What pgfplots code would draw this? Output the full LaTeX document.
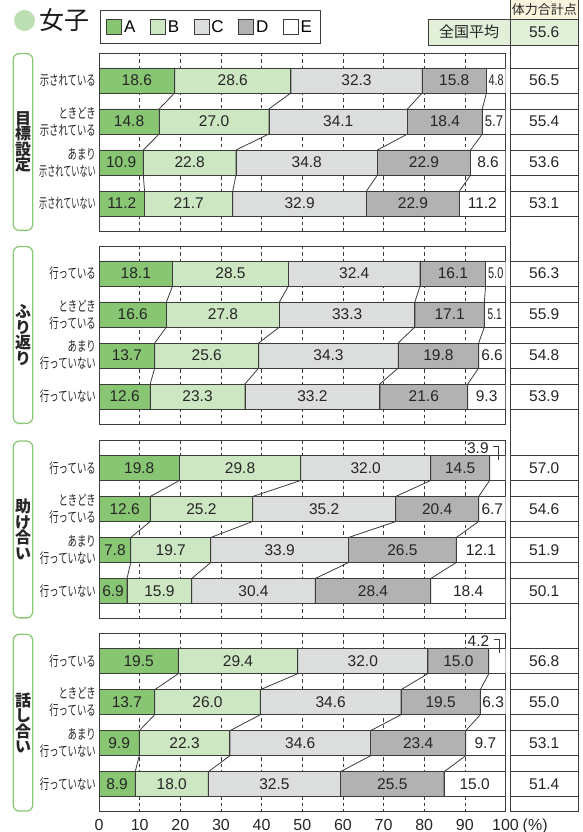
\documentclass[border=0pt]{standalone}
\usepackage{fontspec}
\setmainfont{Liberation Sans}
\newfontfamily\jp{Noto Sans CJK JP}
\newfontfamily\jpn{Noto Sans CJK JP}[FakeStretch=0.67]
\newfontfamily\jpnn{Noto Sans CJK JP}[FakeStretch=0.58]
\usepackage{graphicx}
\usepackage{pgfplots}
\usepackage{pgfplotstable}
\pgfplotsset{compat=1.18}

\definecolor{cA}{RGB}{137,198,116}
\definecolor{cB}{RGB}{205,231,195}
\definecolor{cC}{RGB}{220,221,221}
\definecolor{cD}{RGB}{178,178,178}
\definecolor{bd}{RGB}{60,60,60}
\definecolor{gbox}{RGB}{140,200,120}
\definecolor{gcirc}{RGB}{188,222,178}
\definecolor{hdr}{RGB}{249,244,222}
\definecolor{avg}{RGB}{226,240,218}

% row yy A B C D E S(score) Es(label xscale) Ex Ey (label offsets)
\pgfplotstableread{
row yy A B C D E S Es Ex Ey
0 -0.305 18.6 28.6 32.3 15.8 4.8 56.5 0.7 0 0
0 0.305 18.6 28.6 32.3 15.8 4.8 56.5 0.7 0 0
1 0.695 14.8 27.0 34.1 18.4 5.7 55.4 0.85 0 0
1 1.305 14.8 27.0 34.1 18.4 5.7 55.4 0.85 0 0
2 1.695 10.9 22.8 34.8 22.9 8.6 53.6 1 0 0
2 2.305 10.9 22.8 34.8 22.9 8.6 53.6 1 0 0
3 2.695 11.2 21.7 32.9 22.9 11.2 53.1 1 0 0
3 3.305 11.2 21.7 32.9 22.9 11.2 53.1 1 0 0
}\tA
\pgfplotstableread{
row yy A B C D E S Es Ex Ey
0 -0.305 18.1 28.5 32.4 16.1 5.0 56.3 0.7 0 0
0 0.305 18.1 28.5 32.4 16.1 5.0 56.3 0.7 0 0
1 0.695 16.6 27.8 33.3 17.1 5.1 55.9 0.65 0 0
1 1.305 16.6 27.8 33.3 17.1 5.1 55.9 0.65 0 0
2 1.695 13.7 25.6 34.3 19.8 6.6 54.8 1 0 0
2 2.305 13.7 25.6 34.3 19.8 6.6 54.8 1 0 0
3 2.695 12.6 23.3 33.2 21.6 9.3 53.9 1 0 0
3 3.305 12.6 23.3 33.2 21.6 9.3 53.9 1 0 0
}\tB
\pgfplotstableread{
row yy A B C D E S Es Ex Ey
0 -0.305 19.8 29.8 32.0 14.5 3.9 57.0 1 -4.85 -0.48
0 0.305 19.8 29.8 32.0 14.5 3.9 57.0 1 -4.85 -0.48
1 0.695 12.6 25.2 35.2 20.4 6.7 54.6 1 0 0
1 1.305 12.6 25.2 35.2 20.4 6.7 54.6 1 0 0
2 1.695 7.8 19.7 33.9 26.5 12.1 51.9 1 0 0
2 2.305 7.8 19.7 33.9 26.5 12.1 51.9 1 0 0
3 2.695 6.9 15.9 30.4 28.4 18.4 50.1 1 0 0
3 3.305 6.9 15.9 30.4 28.4 18.4 50.1 1 0 0
}\tC
\pgfplotstableread{
row yy A B C D E S Es Ex Ey
0 -0.305 19.5 29.4 32.0 15.0 4.2 56.8 1 -4.65 -0.48
0 0.305 19.5 29.4 32.0 15.0 4.2 56.8 1 -4.65 -0.48
1 0.695 13.7 26.0 34.6 19.5 6.3 55.0 1 0 0
1 1.305 13.7 26.0 34.6 19.5 6.3 55.0 1 0 0
2 1.695 9.9 22.3 34.6 23.4 9.7 53.1 1 0 0
2 2.305 9.9 22.3 34.6 23.4 9.7 53.1 1 0 0
3 2.695 8.9 18.0 32.5 25.5 15.0 51.4 1 0 0
3 3.305 8.9 18.0 32.5 25.5 15.0 51.4 1 0 0
}\tD

\pgfplotsset{
  barax/.style={width=406.5pt,height=178pt,scale only axis,
    xmin=0,xmax=100,ymin=-0.67,ymax=3.67,y dir=reverse,
    xbar stacked, bar width=25pt,
    xtick={0,10,...,100}, ytick=\empty, xticklabels={},
    major tick length=0pt, tick style={draw=none},
    xmajorgrids, major grid style={bd, dash pattern=on 3.5pt off 3pt, line width=0.6pt},
    axis line style={bd, line width=0.9pt},
    every axis plot/.append style={draw=bd, line width=0.8pt}},
  labax/.style={width=406.5pt,height=178pt,scale only axis,
    xmin=0,xmax=100,ymin=-0.67,ymax=3.67,y dir=reverse, hide axis, clip=false},
  lab/.style={only marks, mark=*, mark size=0pt, mark options={draw=none,fill=none},
    each nth point=2, filter discard warning=false,
    nodes near coords, point meta=explicit symbolic,
    nodes near coords style={anchor=center, inner sep=0pt,
      font=\fontsize{15.5}{15.5}\selectfont, text=black!85}},
  conn/.style={draw=bd, line width=0.8pt, mark=none},
  seg/.style={each nth point=2, filter discard warning=false,
    legend image code/.code={\draw[##1,line width=0.8pt] (0pt,-7.5pt) rectangle (15pt,7.5pt);}},
}
\tikzset{
  rowlab/.style={anchor=east, xshift=-3pt, align=right, inner sep=0pt,
    font=\jpn\fontsize{14}{17}\selectfont, text=black!85},
  grp/.style={align=center, inner sep=0pt, font=\jp\bfseries\fontsize{16}{15.5}\selectfont, text=black!85},
  colline/.style={draw=bd, line width=0.8pt},
}

\newcommand\panel[5]{%
\begin{axis}[barax, at={(99pt,#2pt)}, anchor=south west, #4]
\addplot[seg, fill=cA] table[x=A,y=row]{#1};
\addplot[seg, fill=cB] table[x=B,y=row]{#1};
\addplot[seg, fill=cC] table[x=C,y=row]{#1};
\addplot[seg, fill=cD] table[x=D,y=row]{#1};
\addplot[seg, fill=white] table[x=E,y=row]{#1};
\end{axis}
\begin{axis}[labax, at={(99pt,#2pt)}, anchor=south west]
\addplot[conn] table[x expr=\thisrow{A}, y=yy]{#1};
\addplot[conn] table[x expr=\thisrow{A}+\thisrow{B}, y=yy]{#1};
\addplot[conn] table[x expr=\thisrow{A}+\thisrow{B}+\thisrow{C}, y=yy]{#1};
\addplot[conn] table[x expr=\thisrow{A}+\thisrow{B}+\thisrow{C}+\thisrow{D}, y=yy]{#1};
\addplot[lab] table[x expr=\thisrow{A}/2, y=row, meta=A]{#1};
\addplot[lab] table[x expr=\thisrow{A}+\thisrow{B}/2, y=row, meta=B]{#1};
\addplot[lab] table[x expr=\thisrow{A}+\thisrow{B}+\thisrow{C}/2, y=row, meta=C]{#1};
\addplot[lab] table[x expr=\thisrow{A}+\thisrow{B}+\thisrow{C}+\thisrow{D}/2, y=row, meta=D]{#1};
\addplot[lab, visualization depends on={\thisrow{Es}\as\es},
  nodes near coords={\scalebox{\es}[1]{\pgfplotspointmeta}}]
  table[x expr=\thisrow{A}+\thisrow{B}+\thisrow{C}+\thisrow{D}+\thisrow{E}/2+\thisrow{Ex},
        y expr=\thisrow{row}+\thisrow{Ey}, meta=E]{#1};
\addplot[lab] table[x expr=109.53, y=row, meta=S]{#1};
\pgfplotsinvokeforeach{-0.305,0.305,0.695,1.305,1.695,2.305,2.695,3.305}{%
  \draw[colline] (axis cs:101.1,##1) -- (axis cs:117.96,##1);}
#5
\end{axis}
\draw[gbox, line width=1.3pt, rounded corners=6pt] (13.3pt,#2pt+0.6pt) rectangle (32.7pt,#2pt+177.4pt);
\node[grp] at (23pt,#2pt+89pt) {#3};
}

\newcommand\shimesare{%
\node[rowlab] at (axis cs:0,0) {示されている};
\node[rowlab] at (axis cs:0,1) {ときどき\\示されている};
\node[rowlab] at (axis cs:0,2) {あまり\\{\jpnn 示されていない}};
\node[rowlab, font=\jpnn\fontsize{14}{17}\selectfont] at (axis cs:0,3) {示されていない};}
\newcommand\itte{%
\node[rowlab] at (axis cs:0,0) {行っている};
\node[rowlab] at (axis cs:0,1) {ときどき\\行っている};
\node[rowlab] at (axis cs:0,2) {あまり\\行っていない};
\node[rowlab] at (axis cs:0,3) {行っていない};}

\begin{document}
\begin{tikzpicture}
\path[use as bounding box] (0pt,0pt) rectangle (582pt,832pt);

% title
\fill[gcirc] (24.5pt,811.5pt) circle (10.5pt);
\node[anchor=west, inner sep=0pt, font=\jp\fontsize{25}{25}\selectfont, text=black!90] at (39pt,811.5pt) {女子};

% header of score column
\fill[hdr] (510pt,832pt) rectangle (578.5pt,812.5pt);
\node[font=\jp\fontsize{13}{13}\selectfont, text=black!85] at (544.25pt,822.3pt) {体力合計点};
\filldraw[fill=avg, draw=bd, line width=0.8pt] (428pt,812.5pt) rectangle (578.5pt,787pt);
\node[font=\jp\fontsize{15}{15}\selectfont, text=black!85] at (469pt,799.75pt) {全国平均};
\node[font=\fontsize{15.5}{15.5}\selectfont, text=black!85] at (544.25pt,799.75pt) {55.6};
\draw[bd, line width=0.8pt] (510pt,832pt) -- (510pt,20.3pt);
\draw[bd, line width=0.8pt] (578.5pt,832pt) -- (578.5pt,20.3pt) -- (510pt,20.3pt);

\panel{\tA}{601}{目\\標\\設\\定}{legend entries={A,B,C,D,E},
  legend columns=5,
  legend style={at={(rel axis cs:0.0025,1.242)}, anchor=north west, draw=bd, line width=0.8pt,
    font=\fontsize{17}{17}\selectfont, inner xsep=6pt, inner ysep=8pt,
    /tikz/every even column/.append style={column sep=12.5pt}}}{\shimesare}
\panel{\tB}{408}{ふ\\り\\返\\り}{}{\itte}
\panel{\tC}{213.5}{助\\け\\合\\い}{}{\itte
  \draw[bd, line width=0.6pt] (axis cs:97.0,-0.53) -- (axis cs:98.3,-0.53) -- (axis cs:98.3,-0.2);}
\panel{\tD}{20.3}{話\\し\\合\\い}{xticklabels={0,10,20,30,40,50,60,70,80,90,100},
  xticklabel style={font=\fontsize{16}{16}\selectfont, inner sep=0pt, yshift=-7pt, text=black!85}}{\itte
  \draw[bd, line width=0.6pt] (axis cs:97.1,-0.53) -- (axis cs:98.4,-0.53) -- (axis cs:98.4,-0.2);
  \node[anchor=base west, inner sep=0pt, font=\fontsize{16}{16}\selectfont, text=black!85,
    xshift=17pt, yshift=-18.5pt] at (axis cs:100,3.67) {(\%)};}
\end{tikzpicture}
\end{document}
